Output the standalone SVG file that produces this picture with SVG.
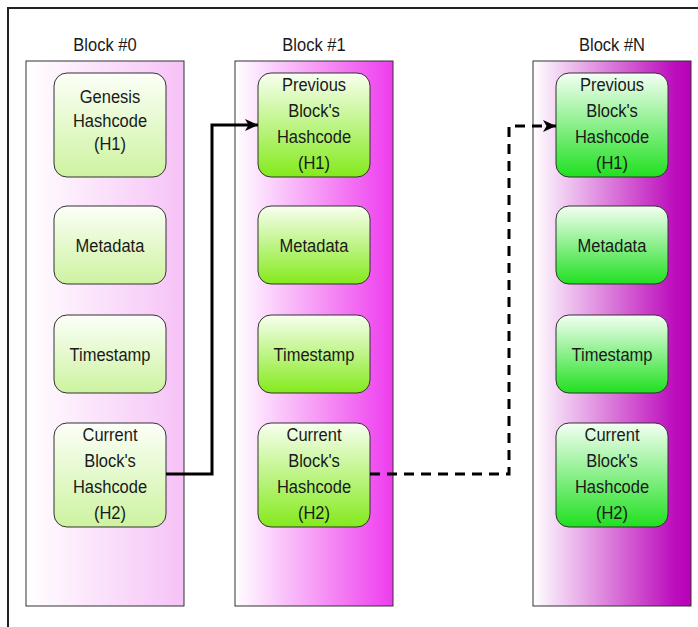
<svg xmlns="http://www.w3.org/2000/svg" width="698" height="627" viewBox="0 0 698 627">
  <defs>
    <linearGradient id="col0" x1="0" y1="0" x2="1" y2="0">
      <stop offset="0" stop-color="#ffffff"/>
      <stop offset="1" stop-color="#f6c2f6"/>
    </linearGradient>
    <linearGradient id="col1" x1="0" y1="0" x2="1" y2="0">
      <stop offset="0" stop-color="#ffffff"/>
      <stop offset="1" stop-color="#ee3cee"/>
    </linearGradient>
    <linearGradient id="colN" x1="0" y1="0" x2="1" y2="0">
      <stop offset="0" stop-color="#ffffff"/>
      <stop offset="0.9" stop-color="#bc0cbc"/>
      <stop offset="1" stop-color="#b800b8"/>
    </linearGradient>
    <linearGradient id="box0" x1="0" y1="0" x2="0" y2="1">
      <stop offset="0" stop-color="#fcfff8"/>
      <stop offset="1" stop-color="#cdf3a0"/>
    </linearGradient>
    <linearGradient id="box1" x1="0" y1="0" x2="0" y2="1">
      <stop offset="0" stop-color="#f8fff0"/>
      <stop offset="1" stop-color="#84ea1c"/>
    </linearGradient>
    <linearGradient id="boxN" x1="0" y1="0" x2="0" y2="1">
      <stop offset="0" stop-color="#f4fff4"/>
      <stop offset="1" stop-color="#20e020"/>
    </linearGradient>
    <marker id="arrow" markerUnits="userSpaceOnUse" markerWidth="14" markerHeight="12" refX="13" refY="6" orient="auto">
      <path d="M0,0 L13,6 L0,12 L3.5,6 Z" fill="#000"/>
    </marker>
  </defs>
  <style>
    .col { stroke: #333; stroke-width: 1; }
    .box { stroke: #333; stroke-width: 1; }
    .t { font-family: "Liberation Sans", Arial, sans-serif; font-size: 16.5px; fill: #1a1a1a; text-anchor: middle; }
    .conn { fill: none; stroke: #000; stroke-width: 3; }
    .dash { stroke-dasharray: 10 7; }
  </style>

  <rect x="0" y="0" width="698" height="627" fill="#ffffff"/>
  <rect id="frame" x="8" y="8" width="720" height="660" fill="none" stroke="#222" stroke-width="2"/>

  <g id="block0">
    <text class="t" transform="translate(105,51) scale(1,1.16)">Block #0</text>
    <rect class="col" x="26" y="61" width="158" height="545" fill="url(#col0)"/>
    <g id="b0-genesis">
      <rect class="box" x="54" y="73" width="112" height="104" rx="13" fill="url(#box0)"/>
      <text class="t" transform="translate(110,103) scale(1,1.16)"><tspan x="0" y="0">Genesis</tspan><tspan x="0" y="20.3">Hashcode</tspan><tspan x="0" y="40.6">(H1)</tspan></text>
    </g>
    <g id="b0-metadata">
      <rect class="box" x="54" y="206" width="112" height="78" rx="13" fill="url(#box0)"/>
      <text class="t" transform="translate(110,252) scale(1,1.16)">Metadata</text>
    </g>
    <g id="b0-timestamp">
      <rect class="box" x="54" y="315" width="112" height="78" rx="13" fill="url(#box0)"/>
      <text class="t" transform="translate(110,361) scale(1,1.16)">Timestamp</text>
    </g>
    <g id="b0-current">
      <rect class="box" x="54" y="423" width="112" height="104" rx="13" fill="url(#box0)"/>
      <text class="t" transform="translate(110,441) scale(1,1.16)"><tspan x="0" y="0">Current</tspan><tspan x="0" y="22.4">Block's</tspan><tspan x="0" y="44.8">Hashcode</tspan><tspan x="0" y="67.2">(H2)</tspan></text>
    </g>
  </g>

  <g id="block1">
    <text class="t" transform="translate(314,51) scale(1,1.16)">Block #1</text>
    <rect class="col" x="235" y="61" width="158" height="545" fill="url(#col1)"/>
    <g id="b1-previous">
      <rect class="box" x="258" y="73" width="112" height="104" rx="13" fill="url(#box1)"/>
      <text class="t" transform="translate(314,91) scale(1,1.16)"><tspan x="0" y="0">Previous</tspan><tspan x="0" y="22.4">Block's</tspan><tspan x="0" y="44.8">Hashcode</tspan><tspan x="0" y="67.2">(H1)</tspan></text>
    </g>
    <g id="b1-metadata">
      <rect class="box" x="258" y="206" width="112" height="78" rx="13" fill="url(#box1)"/>
      <text class="t" transform="translate(314,252) scale(1,1.16)">Metadata</text>
    </g>
    <g id="b1-timestamp">
      <rect class="box" x="258" y="315" width="112" height="78" rx="13" fill="url(#box1)"/>
      <text class="t" transform="translate(314,361) scale(1,1.16)">Timestamp</text>
    </g>
    <g id="b1-current">
      <rect class="box" x="258" y="423" width="112" height="104" rx="13" fill="url(#box1)"/>
      <text class="t" transform="translate(314,441) scale(1,1.16)"><tspan x="0" y="0">Current</tspan><tspan x="0" y="22.4">Block's</tspan><tspan x="0" y="44.8">Hashcode</tspan><tspan x="0" y="67.2">(H2)</tspan></text>
    </g>
  </g>

  <g id="blockN">
    <text class="t" transform="translate(612,51) scale(1,1.16)">Block #N</text>
    <rect class="col" x="533" y="61" width="158" height="545" fill="url(#colN)"/>
    <g id="bN-previous">
      <rect class="box" x="556" y="73" width="112" height="104" rx="13" fill="url(#boxN)"/>
      <text class="t" transform="translate(612,91) scale(1,1.16)"><tspan x="0" y="0">Previous</tspan><tspan x="0" y="22.4">Block's</tspan><tspan x="0" y="44.8">Hashcode</tspan><tspan x="0" y="67.2">(H1)</tspan></text>
    </g>
    <g id="bN-metadata">
      <rect class="box" x="556" y="206" width="112" height="78" rx="13" fill="url(#boxN)"/>
      <text class="t" transform="translate(612,252) scale(1,1.16)">Metadata</text>
    </g>
    <g id="bN-timestamp">
      <rect class="box" x="556" y="315" width="112" height="78" rx="13" fill="url(#boxN)"/>
      <text class="t" transform="translate(612,361) scale(1,1.16)">Timestamp</text>
    </g>
    <g id="bN-current">
      <rect class="box" x="556" y="423" width="112" height="104" rx="13" fill="url(#boxN)"/>
      <text class="t" transform="translate(612,441) scale(1,1.16)"><tspan x="0" y="0">Current</tspan><tspan x="0" y="22.4">Block's</tspan><tspan x="0" y="44.8">Hashcode</tspan><tspan x="0" y="67.2">(H2)</tspan></text>
    </g>
  </g>

  <g id="connectors">
    <path class="conn" d="M166,474 H212 V125 H258" marker-end="url(#arrow)"/>
    <path class="conn dash" d="M370,474 H509 V126 H556" marker-end="url(#arrow)"/>
  </g>
</svg>
